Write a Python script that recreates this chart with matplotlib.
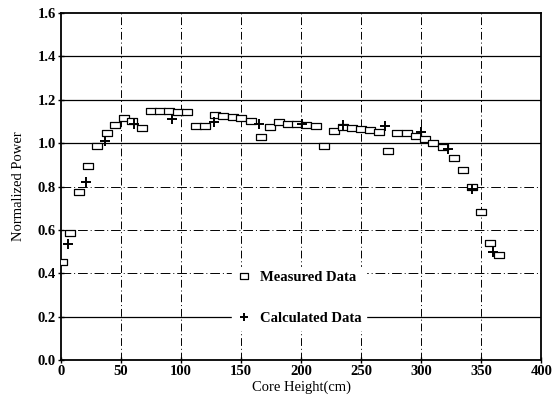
import matplotlib
matplotlib.use("Agg")
import matplotlib.pyplot as plt
from matplotlib.path import Path
import numpy as np

# Measured axial power distribution
measured_height = [1, 7.5, 15, 22.5, 30, 38, 45, 52.5, 59, 67.5, 75, 82.5, 90, 97.5,
                   105, 112.5, 120, 128, 135, 143, 150, 158, 167, 174, 182, 189, 197,
                   204, 212, 219, 227, 235, 242, 250, 257, 265, 272, 280, 288, 296,
                   303, 310, 318, 327, 335, 342, 350, 357, 365]
measured_power = [0.45, 0.585, 0.775, 0.895, 0.985, 1.045, 1.085, 1.115, 1.10, 1.07,
                  1.148, 1.15, 1.148, 1.145, 1.143, 1.08, 1.08, 1.13, 1.124, 1.12,
                  1.115, 1.10, 1.028, 1.075, 1.097, 1.09, 1.09, 1.085, 1.078, 0.986,
                  1.055, 1.074, 1.07, 1.065, 1.06, 1.05, 0.963, 1.045, 1.045, 1.033,
                  1.02, 1.00, 0.98, 0.93, 0.876, 0.80, 0.683, 0.54, 0.484]

# Calculated axial power distribution
calc_height = [6, 21, 36.7, 61, 92.5, 127.5, 165, 201, 235, 270, 300, 322, 342.5, 360]
calc_power = [0.535, 0.82, 1.01, 1.09, 1.11, 1.097, 1.09, 1.087, 1.083, 1.078,
              1.05, 0.972, 0.79, 0.50]

x_ticks = [0, 50, 100, 150, 200, 250, 300, 350, 400]
y_ticks = [0.0, 0.2, 0.4, 0.6, 0.8, 1.0, 1.2, 1.4, 1.6]

plt.rcParams['font.family'] = ['Liberation Serif', 'DejaVu Serif']

fig = plt.figure(figsize=(5.54, 4.0), dpi=100)
ax = fig.add_axes([0.110, 0.100, 0.867, 0.8675])

# grid: vertical dash-dot, horizontal mix of solid and dash-dot
for xv in x_ticks[1:-1]:
    ax.axvline(xv, color='black', lw=0.7, ls=(0, (8, 3, 1, 3)), zorder=1)
solid_rows = [0.2, 1.0, 1.2, 1.4]
for yv in y_ticks[1:-1]:
    if yv in solid_rows:
        ax.axhline(yv, color='black', lw=0.9, zorder=1)
    else:
        ax.axhline(yv, color='black', lw=0.7, ls=(0, (10, 3, 1, 3)), zorder=1)

# wide rectangle marker for the measured points
rect = Path([(-0.65, -0.45), (0.65, -0.45), (0.65, 0.45), (-0.65, 0.45), (-0.65, -0.45)],
            [Path.MOVETO, Path.LINETO, Path.LINETO, Path.LINETO, Path.CLOSEPOLY])

ax.plot(measured_height, measured_power, ls='none', marker=rect, markersize=7,
        mfc='white', mec='black', mew=0.9, label='Measured Data', zorder=3)
ax.plot(calc_height, calc_power, ls='none', marker='+', markersize=6.5,
        mec='black', mew=1.4, label='Calculated Data', zorder=4)

ax.set_xlim(0, 400)
ax.set_ylim(0, 1.6)
ax.set_xticks(x_ticks)
ax.set_yticks(y_ticks)
ax.set_xticklabels([str(v) for v in x_ticks])
ax.set_yticklabels([f"{v:.1f}" for v in y_ticks])
ax.tick_params(direction='inout', length=5, width=1, labelsize=10.5, pad=1)
for lab in ax.get_xticklabels() + ax.get_yticklabels():
    lab.set_fontweight('bold')

for sp in ax.spines.values():
    sp.set_linewidth(1.3)

ax.set_xlabel('Core Height(cm)', fontsize=10.5, labelpad=2)
ax.set_ylabel('Normalized Power', fontsize=10.5, labelpad=9)

leg = ax.legend(loc='center', bbox_to_anchor=(0.496, 0.178), frameon=True,
                fancybox=False, edgecolor='white', facecolor='white', framealpha=1,
                labelspacing=1.9, handlelength=1.0, handletextpad=0.6,
                borderpad=0.3, prop={'size': 10.5, 'weight': 'bold'})
leg.set_zorder(5)
for h in leg.legend_handles:
    h.set_markersize(6)

fig.savefig('out.png', dpi=100)
